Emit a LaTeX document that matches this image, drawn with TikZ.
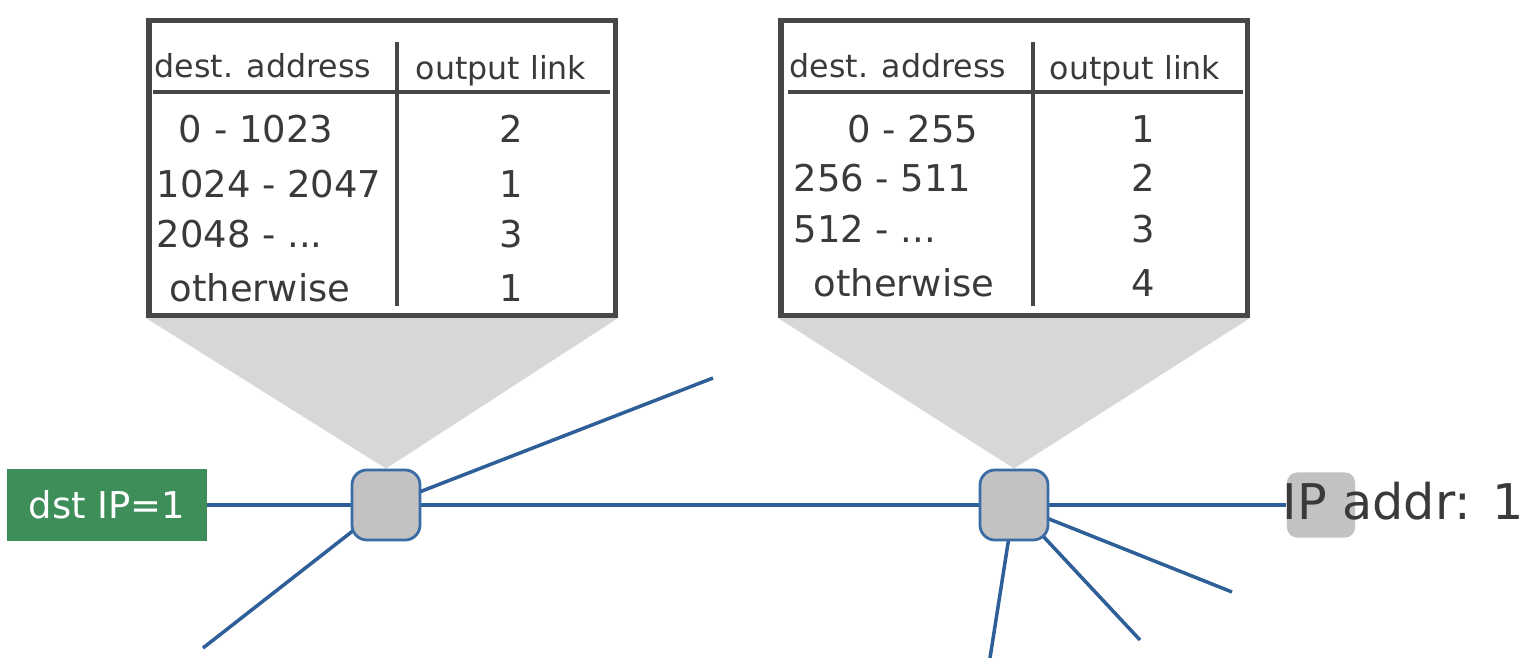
\documentclass[tikz,border=0pt]{standalone}
\usepackage{fontspec}
\setmainfont{DejaVu Sans}
\usetikzlibrary{backgrounds}
\definecolor{linkblue}{HTML}{2F5F98}
\definecolor{routerblue}{HTML}{3A6BA5}
\definecolor{routergrey}{HTML}{C2C2C2}
\definecolor{funnelgrey}{HTML}{D7D7D7}
\definecolor{tabgrey}{HTML}{474747}
\definecolor{txtgrey}{HTML}{3A3A3A}
\definecolor{srcgreen}{HTML}{3E8E5A}
\begin{document}
\begin{tikzpicture}[x=0.01cm, y=-0.01cm,
    tablebox/.style={draw=tabgrey, line width=1.5pt, minimum width=4.66cm, minimum height=2.95cm, inner sep=0pt},
    rule/.style={tabgrey, line width=0.9pt},
    head/.style={text=txtgrey, font=\fontsize{9}{11}\selectfont, inner sep=0pt, anchor=base},
    entry/.style={text=txtgrey, font=\fontsize{10.5}{12}\selectfont, inner sep=0pt, anchor=base},
    router/.style={draw=routerblue, line width=0.8pt, fill=routergrey, rounded corners=0.15cm, minimum width=0.68cm, minimum height=0.70cm},
    hostbox/.style={fill=routergrey, rounded corners=0.1cm, minimum width=0.68cm, minimum height=0.65cm},
    srcbox/.style={fill=srcgreen, text=white, font=\fontsize{10.5}{12}\selectfont, minimum width=1.99cm, minimum height=0.71cm},
    link/.style={linkblue, line width=1pt},
    funnel/.style={fill=funnelgrey}]
    \useasboundingbox (0,0) rectangle (1530,658);

    % forwarding table of the first router
    \node[tablebox] (tabA) at (382,168) {};
    \draw[rule] (397,42) -- (397,306);
    \draw[rule] (153,92) -- (610,92);
    \node[head] (headA1) at (263,78) {dest. address};
    \node[head] (headA2) at (501,80) {output link};
    \node[entry] (rngA1) at (256,143) {0 - 1023};
    \node[entry, anchor=base west] (rngA2) at (156,198) {1024 - 2047};
    \node[entry, anchor=base west] (rngA3) at (156,248) {2048 - ...};
    \node[entry] (rngA4) at (260,302) {otherwise};
    \foreach \n/\y [count=\i] in {2/143,1/198,3/248,1/302}
        \node[entry] (outA\i) at (511,\y) {\n};

    % forwarding table of the second router
    \node[tablebox] (tabB) at (1014,168) {};
    \draw[rule] (1033,42) -- (1033,306);
    \draw[rule] (788,92) -- (1243,92);
    \node[head] (headB1) at (898,78) {dest. address};
    \node[head] (headB2) at (1135,80) {output link};
    \node[entry] (rngB1) at (913,143) {0 - 255};
    \node[entry, anchor=base west] (rngB2) at (793,192) {256 - 511};
    \node[entry, anchor=base west] (rngB3) at (793,243) {512 - ...};
    \node[entry] (rngB4) at (904,297) {otherwise};
    \foreach \n/\y [count=\i] in {1/143,2/192,3/243,4/297}
        \node[entry] (outB\i) at (1143,\y) {\n};

    % routers, source and host
    \node[router] (r1) at (386,505) {};
    \node[router] (r2) at (1014,505) {};
    \node[srcbox] (dst) at (107,505) {dst IP=1};
    \node[hostbox] (host) at (1321,505) {};

    % free ends of the links
    \coordinate (e1) at (713,378);
    \coordinate (e2) at (203,648);
    \coordinate (e3) at (1232,592);
    \coordinate (e4) at (1140,640);
    \coordinate (e5) at (990,658);

    % zoom funnels and links, behind the boxes
    \begin{scope}[on background layer]
        \fill[funnel] (tabA.south west) -- (tabA.south east) -- (r1.north) -- cycle;
        \fill[funnel] (tabB.south west) -- (tabB.south east) -- (r2.north) -- cycle;
        \draw[link] (dst.center) -- (r1.center) -- (r2.center) -- (host.west);
        \draw[link] (r1.center) -- (e1);
        \draw[link] (r1.center) -- (e2);
        \foreach \e in {e3,e4,e5}
            \draw[link] (r2.center) -- (\e);
    \end{scope}

    \node[text=txtgrey, font=\fontsize{14}{16}\selectfont, inner sep=0pt, anchor=west] (hostlbl) at (1282,501) {IP addr: 1};
\end{tikzpicture}
\end{document}
